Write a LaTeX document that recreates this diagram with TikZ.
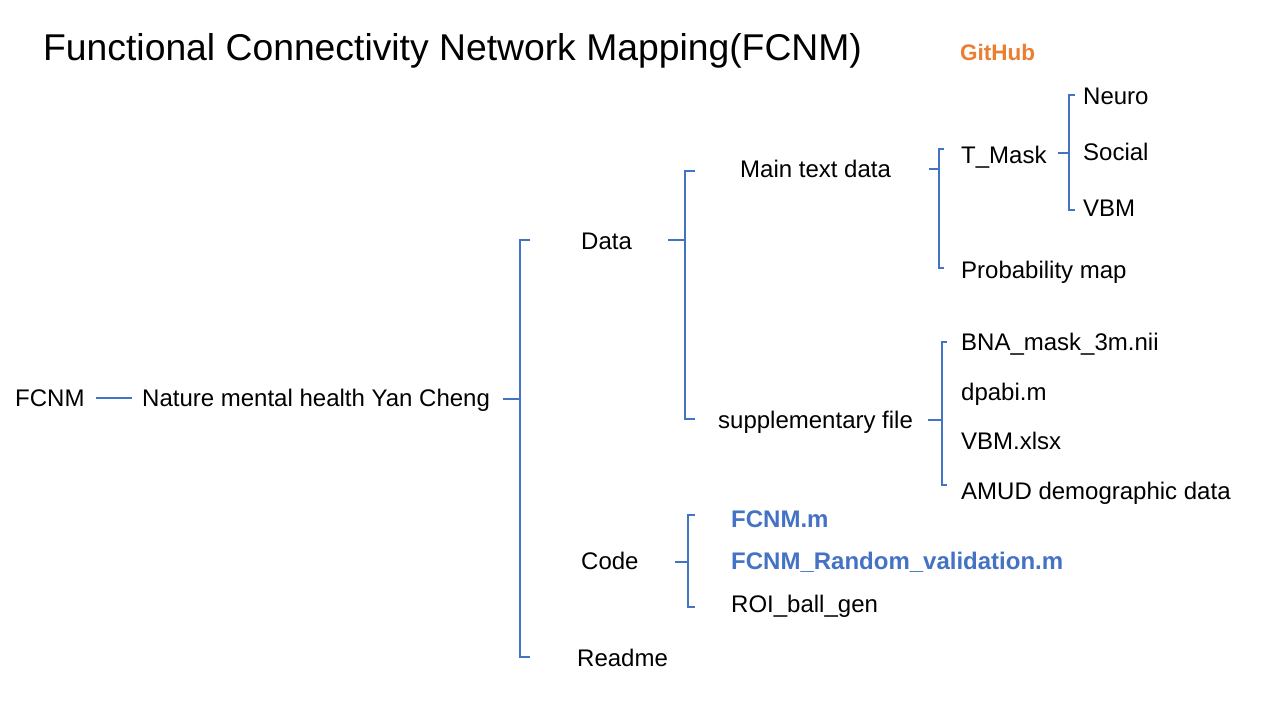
\documentclass[tikz,border=0pt]{standalone}
\usepackage{fontspec}
\setmainfont{Liberation Sans}
\usetikzlibrary{calc}
\definecolor{brblue}{HTML}{4472C4}
\definecolor{ghorange}{HTML}{ED7D31}
\begin{document}
\begin{tikzpicture}[x=1pt,y=-1pt,
  lbl/.style={anchor=west,inner sep=0pt,font=\fontsize{24}{28}\selectfont,text height=17pt,text depth=0pt},
  bold/.style={lbl,font=\fontsize{24}{28}\selectfont\bfseries,text=brblue},
  br/.style={draw=brblue,line width=2.3pt}]
\useasboundingbox (0,0) rectangle (1280,720);
\fill[white] (0,0) rectangle (1280,720);
% title
\node[anchor=west,inner sep=0pt,font=\fontsize{37.3}{42}\selectfont,text height=26.7pt,text depth=0pt] (title) at (43,47) {Functional Connectivity Network Mapping(FCNM)};
\node[anchor=west,inner sep=0pt,font=\fontsize{22.5}{26}\selectfont\bfseries,text=ghorange,text height=16pt,text depth=0pt] (github) at (960,52) {GitHub};
% nodes
\node[lbl] (fcnm) at (15,398) {FCNM};
\node[lbl] (nature) at (142,398) {Nature mental health Yan Cheng};
\node[lbl] (data) at (581,241) {Data};
\node[lbl] (main) at (740,169) {Main text data};
\node[lbl] (tmask) at (961,155) {T\_Mask};
\node[lbl] (neuro) at (1083,96) {Neuro};
\node[lbl] (social) at (1083,152) {Social};
\node[lbl] (vbm) at (1083,208) {VBM};
\node[lbl] (prob) at (961,270) {Probability map};
\node[lbl] (supp) at (718,420) {supplementary file};
\node[lbl] (bna) at (961,342) {BNA\_mask\_3m.nii};
\node[lbl] (dpabi) at (961,392) {dpabi.m};
\node[lbl] (vbmx) at (961,441) {VBM.xlsx};
\node[lbl] (amud) at (961,491) {AMUD demographic data};
\node[lbl] (code) at (581,561) {Code};
\node[bold] (fcnmm) at (731,519) {FCNM.m};
\node[bold] (fcnmr) at (731,561) {FCNM\_Random\_validation.m};
\node[lbl] (roi) at (731,604) {ROI\_ball\_gen};
\node[lbl] (readme) at (577,658) {Readme};
% connectors
\draw[br] ($(fcnm.east)+(11,0)$) -- ($(nature.west)+(-10,0)$);
% bracket 1 (nature -> data/code/readme)
\coordinate (b1) at (520,399);
\draw[br] ($(b1 -| nature.east)+(13,0)$) -- (b1);
\draw[br] (530,240) -- (520,240) -- (520,657) -- (530,657);
% bracket data
\coordinate (b2) at (685,240);
\draw[br] ($(b2 -| data.east)+(36,0)$) -- (b2);
\draw[br] (695,171) -- (685,171) -- (685,419) -- (695,419);
% bracket main text
\coordinate (b3) at (939,169);
\draw[br] ($(b3 -| main.east)+(38,0)$) -- (b3);
\draw[br] (944,149) -- (939,149) -- (939,268) -- (944,268);
% bracket T_Mask
\coordinate (b4) at (1069,153);
\draw[br] ($(b4 -| tmask.east)+(11,0)$) -- (b4);
\draw[br] (1075,95) -- (1069,95) -- (1069,210) -- (1075,210);
% bracket supplementary
\coordinate (b5) at (942,420);
\draw[br] ($(b5 -| supp.east)+(15,0)$) -- (b5);
\draw[br] (947,342) -- (942,342) -- (942,485) -- (947,485);
% bracket code
\coordinate (b6) at (688,562);
\draw[br] ($(b6 -| code.east)+(36,0)$) -- (b6);
\draw[br] (695,515) -- (688,515) -- (688,607) -- (695,607);
\end{tikzpicture}
\end{document}
